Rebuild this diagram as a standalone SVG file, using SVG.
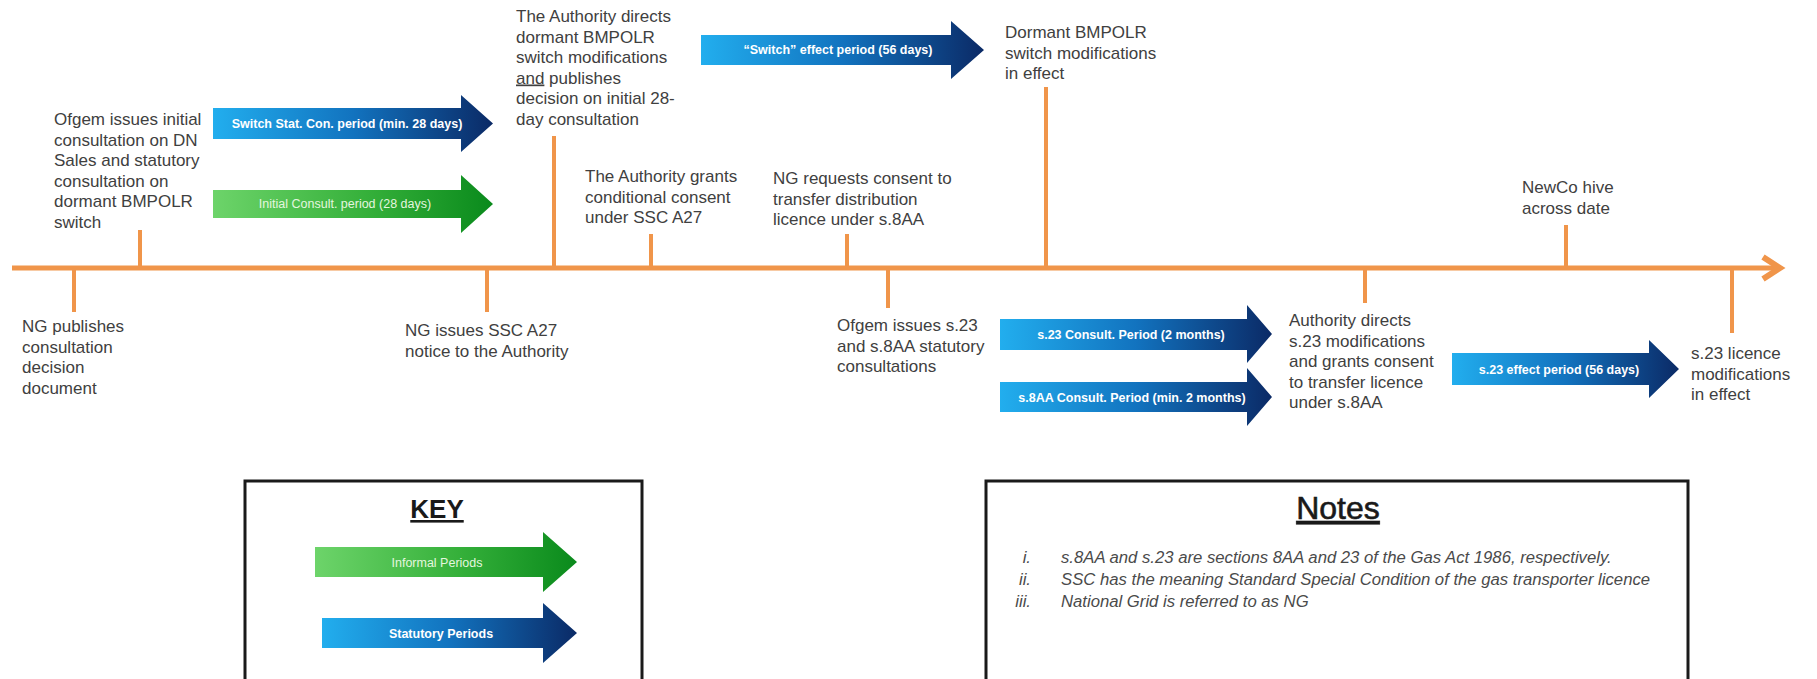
<svg xmlns="http://www.w3.org/2000/svg" width="1817" height="679" viewBox="0 0 1817 679">
<style>
.lbl{font-family:"Liberation Sans",Arial,sans-serif;font-size:17px;fill:#404040}
.tl{stroke:#F0954A;fill:none}
.ab{font-family:"Liberation Sans",Arial,sans-serif;font-size:12.5px;font-weight:bold;fill:#ffffff;text-anchor:middle;dominant-baseline:central}
.ag{font-family:"Liberation Sans",Arial,sans-serif;font-size:12.5px;fill:#e4f6df;text-anchor:middle;dominant-baseline:central}
.note{font-family:"Liberation Sans",Arial,sans-serif;font-size:16.7px;font-style:italic;fill:#4a4a4a}
.box{fill:#ffffff;stroke:#1a1a1a;stroke-width:3}
</style>
<defs>
<linearGradient id="gb" x1="0" y1="0" x2="1" y2="0">
<stop offset="0" stop-color="#22AEEE"/>
<stop offset="0.5" stop-color="#1273BF"/>
<stop offset="1" stop-color="#0B2A66"/>
</linearGradient>
<linearGradient id="gg" x1="0" y1="0" x2="1" y2="0">
<stop offset="0" stop-color="#6DD46A"/>
<stop offset="0.55" stop-color="#35B03A"/>
<stop offset="1" stop-color="#0A8A1C"/>
</linearGradient>
</defs>
<rect width="1817" height="679" fill="#ffffff"/>

<g id="connectors">
<line class="tl" x1="12" y1="268" x2="1778" y2="268" stroke-width="5"/>
<polyline class="tl" points="1763,257 1780,268 1763,279" stroke-width="6"/>
<g stroke-width="4">
<line class="tl" x1="74" y1="268" x2="74" y2="312"/>
<line class="tl" x1="140" y1="230" x2="140" y2="268"/>
<line class="tl" x1="487" y1="268" x2="487" y2="312"/>
<line class="tl" x1="554" y1="136" x2="554" y2="268"/>
<line class="tl" x1="651" y1="234" x2="651" y2="268"/>
<line class="tl" x1="847" y1="234" x2="847" y2="268"/>
<line class="tl" x1="888" y1="268" x2="888" y2="308"/>
<line class="tl" x1="1046" y1="87" x2="1046" y2="268"/>
<line class="tl" x1="1365" y1="268" x2="1365" y2="303"/>
<line class="tl" x1="1566" y1="225" x2="1566" y2="268"/>
<line class="tl" x1="1732" y1="268" x2="1732" y2="333"/>
</g>
</g>

<g id="n-ofgem-initial" class="lbl">
<text x="54" y="125">Ofgem issues initial</text>
<text x="54" y="145.5">consultation on DN</text>
<text x="54" y="166">Sales and statutory</text>
<text x="54" y="186.5">consultation on</text>
<text x="54" y="207">dormant BMPOLR</text>
<text x="54" y="227.5">switch</text>
</g>

<g id="n-authority-directs" class="lbl">
<text x="516" y="22">The Authority directs</text>
<text x="516" y="42.5">dormant BMPOLR</text>
<text x="516" y="63">switch modifications</text>
<text x="516" y="83.5"><tspan text-decoration="underline">and</tspan> publishes</text>
<text x="516" y="104">decision on initial 28-</text>
<text x="516" y="124.5">day consultation</text>
</g>

<g id="n-authority-grants" class="lbl">
<text x="585" y="182">The Authority grants</text>
<text x="585" y="202.5">conditional consent</text>
<text x="585" y="223">under SSC A27</text>
</g>

<g id="n-ng-requests" class="lbl">
<text x="773" y="184">NG requests consent to</text>
<text x="773" y="204.5">transfer distribution</text>
<text x="773" y="225">licence under s.8AA</text>
</g>

<g id="n-dormant-effect" class="lbl">
<text x="1005" y="38">Dormant BMPOLR</text>
<text x="1005" y="58.5">switch modifications</text>
<text x="1005" y="79">in effect</text>
</g>

<g id="n-newco" class="lbl">
<text x="1522" y="193">NewCo hive</text>
<text x="1522" y="213.5">across date</text>
</g>

<g id="n-ng-publishes" class="lbl">
<text x="22" y="332">NG publishes</text>
<text x="22" y="352.5">consultation</text>
<text x="22" y="373">decision</text>
<text x="22" y="393.5">document</text>
</g>

<g id="n-ng-issues" class="lbl">
<text x="405" y="336">NG issues SSC A27</text>
<text x="405" y="356.5">notice to the Authority</text>
</g>

<g id="n-ofgem-s23" class="lbl">
<text x="837" y="331">Ofgem issues s.23</text>
<text x="837" y="351.5">and s.8AA statutory</text>
<text x="837" y="372">consultations</text>
</g>

<g id="n-authority-s23" class="lbl">
<text x="1289" y="326">Authority directs</text>
<text x="1289" y="346.5">s.23 modifications</text>
<text x="1289" y="367">and grants consent</text>
<text x="1289" y="387.5">to transfer licence</text>
<text x="1289" y="408">under s.8AA</text>
</g>

<g id="n-s23-effect" class="lbl">
<text x="1691" y="359">s.23 licence</text>
<text x="1691" y="379.5">modifications</text>
<text x="1691" y="400">in effect</text>
</g>

<g id="a-switch-stat">
<path d="M213,108 L461,108 L461,95 L493,123.5 L461,152 L461,139 L213,139 Z" fill="url(#gb)"/>
<text class="ab" x="347" y="123.5">Switch Stat. Con. period (min. 28 days)</text>
</g>
<g id="a-initial">
<path d="M213,190 L461,190 L461,175 L493,204 L461,233 L461,218 L213,218 Z" fill="url(#gg)"/>
<text class="ag" x="345" y="204">Initial Consult. period (28 days)</text>
</g>
<g id="a-switch-effect">
<path d="M701,35 L951,35 L951,21 L984,50 L951,79 L951,65 L701,65 Z" fill="url(#gb)"/>
<text class="ab" x="838" y="50" font-size="13">“Switch” effect period (56 days)</text>
</g>
<g id="a-s23-consult">
<path d="M1000,319 L1247,319 L1247,305 L1272,334 L1247,363 L1247,350 L1000,350 Z" fill="url(#gb)"/>
<text class="ab" x="1131" y="334.5">s.23 Consult. Period (2 months)</text>
</g>
<g id="a-s8aa-consult">
<path d="M1000,382 L1247,382 L1247,368 L1272,397 L1247,426 L1247,412 L1000,412 Z" fill="url(#gb)"/>
<text class="ab" x="1132" y="397.5">s.8AA Consult. Period (min. 2 months)</text>
</g>
<g id="a-s23-effect">
<path d="M1452,353 L1649,353 L1649,340 L1679,369 L1649,398 L1649,385 L1452,385 Z" fill="url(#gb)"/>
<text class="ab" x="1559" y="369.5">s.23 effect period (56 days)</text>
</g>

<g id="key">
<rect class="box" x="245" y="481" width="397" height="230"/>
<text x="437" y="518" font-family="Liberation Sans, Arial, sans-serif" font-size="26" font-weight="bold" fill="#1a1a1a" text-anchor="middle" text-decoration="underline">KEY</text>
<path d="M315,547 L543,547 L543,532 L577,562 L543,592 L543,577 L315,577 Z" fill="url(#gg)"/>
<text class="ag" x="437" y="562.5" font-size="14">Informal Periods</text>
<path d="M322,618 L543,618 L543,603 L577,633 L543,663 L543,648 L322,648 Z" fill="url(#gb)"/>
<text class="ab" x="441" y="633.5" font-size="13.5">Statutory Periods</text>
</g>

<g id="notes">
<rect class="box" x="986" y="481" width="702" height="230"/>
<text x="1338" y="519" font-family="Liberation Sans, Arial, sans-serif" font-size="32" fill="#1a1a1a" stroke="#1a1a1a" stroke-width="0.6" text-anchor="middle" text-decoration="underline">Notes</text>
<text class="note" x="1031" y="563" text-anchor="end">i.</text>
<text class="note" x="1061" y="563">s.8AA and s.23 are sections 8AA and 23 of the Gas Act 1986, respectively.</text>
<text class="note" x="1031" y="585" text-anchor="end">ii.</text>
<text class="note" x="1061" y="585">SSC has the meaning Standard Special Condition of the gas transporter licence</text>
<text class="note" x="1031" y="607" text-anchor="end">iii.</text>
<text class="note" x="1061" y="607">National Grid is referred to as NG</text>
</g>
</svg>
